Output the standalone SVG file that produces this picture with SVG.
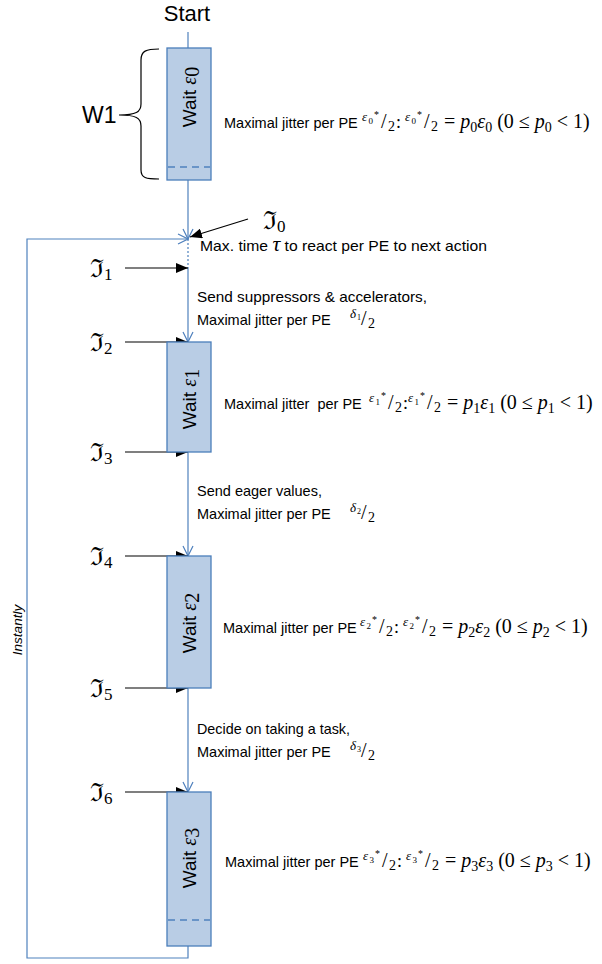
<svg xmlns="http://www.w3.org/2000/svg" width="602" height="964" viewBox="0 0 602 964">
<style>
.box{fill:#b9cde5;stroke:#4a7ebb;stroke-width:1.3}
.dash{stroke:#4f81bd;stroke-width:1.5;stroke-dasharray:7,5;fill:none}
.flow{stroke:#4f81bd;stroke-width:1.2;fill:none}
.dot{stroke:#4f81bd;stroke-width:1.2;stroke-dasharray:2,2;fill:none}
.blk{stroke:#000;stroke-width:1.2;fill:none}
.t{font-family:"Liberation Sans",Arial,sans-serif;font-size:14.5px;fill:#000}
.wait{font-family:"Liberation Sans",Arial,sans-serif;font-size:19px;fill:#000}
.mt{font-family:"Liberation Serif","DejaVu Serif",serif;font-size:20px;fill:#000}
.mi{font-style:italic}
.fr{font-family:"DejaVu Serif",serif;font-size:25px;fill:#000}
</style>
<defs>
<marker id="open" viewBox="0 0 12 12" refX="11" refY="6" markerWidth="12" markerHeight="12" markerUnits="userSpaceOnUse" orient="auto">
<path d="M1,1 L11,6 L1,11" fill="none" stroke="#4f81bd" stroke-width="1.2"/>
</marker>
<marker id="fill" viewBox="0 0 12 10" refX="12" refY="5" markerWidth="12" markerHeight="10" markerUnits="userSpaceOnUse" orient="auto">
<path d="M0,0 L12,5 L0,10 Z" fill="#000"/>
</marker>
</defs>

<text x="187" y="21" text-anchor="middle" font-family="Liberation Sans,Arial,sans-serif" font-size="22">Start</text>

<g id="connectors">
<line class="flow" x1="188" y1="32" x2="188" y2="48"/>
<line class="flow" x1="188" y1="180" x2="188" y2="239" marker-end="url(#open)"/>
<line class="dot" x1="188" y1="239" x2="188" y2="268"/>
<line class="flow" x1="188" y1="268" x2="188" y2="342" marker-end="url(#open)"/>
<line class="flow" x1="188" y1="452" x2="188" y2="556" marker-end="url(#open)"/>
<line class="flow" x1="188" y1="688" x2="188" y2="792" marker-end="url(#open)"/>
<polyline class="flow" points="188,946 188,958 27,958 27,239 188,239" marker-end="url(#open)"/>
<line class="blk" x1="248" y1="219" x2="190" y2="237" marker-end="url(#fill)"/>
<line class="blk" x1="125" y1="268" x2="188" y2="268" marker-end="url(#fill)"/>
<line class="blk" x1="125" y1="342" x2="188" y2="342" marker-end="url(#fill)"/>
<line class="blk" x1="125" y1="452" x2="188" y2="452" marker-end="url(#fill)"/>
<line class="blk" x1="125" y1="556" x2="188" y2="556" marker-end="url(#fill)"/>
<line class="blk" x1="125" y1="688" x2="188" y2="688" marker-end="url(#fill)"/>
<line class="blk" x1="125" y1="792" x2="188" y2="792" marker-end="url(#fill)"/>
</g>

<g id="w1">
<path class="blk" d="M159,49 C146,49 141,51 141,60 L141,104 C141,112 136,115 119,115 C136,115 141,118 141,126 L141,170 C141,178 146,179 159,179"/>
<text x="82" y="123" font-family="Liberation Sans,Arial,sans-serif" font-size="23">W1</text>
</g>

<g id="wait0">
<rect class="box" x="167" y="48" width="44" height="132"/>
<line class="dash" x1="168" y1="167" x2="210" y2="167"/>
<text class="wait" transform="translate(196,97) rotate(-90)" text-anchor="middle">Wait <tspan class="mt mi" font-size="19">ε</tspan><tspan class="mt" font-size="13" dy="3">0</tspan></text>
</g>
<g id="wait1">
<rect class="box" x="167" y="342" width="44" height="110"/>
<text class="wait" transform="translate(196,399) rotate(-90)" text-anchor="middle">Wait <tspan class="mt mi" font-size="19">ε</tspan><tspan class="mt" font-size="13" dy="3">1</tspan></text>
</g>
<g id="wait2">
<rect class="box" x="167" y="556" width="44" height="132"/>
<text class="wait" transform="translate(196,623) rotate(-90)" text-anchor="middle">Wait <tspan class="mt mi" font-size="19">ε</tspan><tspan class="mt" font-size="13" dy="3">2</tspan></text>
</g>
<g id="wait3">
<rect class="box" x="167" y="792" width="44" height="154"/>
<line class="dash" x1="168" y1="920" x2="210" y2="920"/>
<text class="wait" transform="translate(196,858) rotate(-90)" text-anchor="middle">Wait <tspan class="mt mi" font-size="19">ε</tspan><tspan class="mt" font-size="13" dy="3">3</tspan></text>
</g>

<g id="labels">
<text class="fr" x="263" y="229">ℑ<tspan font-family="Liberation Serif,serif" font-size="17" dy="3">0</tspan></text>
<text class="fr" x="90" y="277">ℑ<tspan font-family="Liberation Serif,serif" font-size="17" dy="3">1</tspan></text>
<text class="fr" x="90" y="351">ℑ<tspan font-family="Liberation Serif,serif" font-size="17" dy="3">2</tspan></text>
<text class="fr" x="90" y="461">ℑ<tspan font-family="Liberation Serif,serif" font-size="17" dy="3">3</tspan></text>
<text class="fr" x="90" y="565">ℑ<tspan font-family="Liberation Serif,serif" font-size="17" dy="3">4</tspan></text>
<text class="fr" x="90" y="697">ℑ<tspan font-family="Liberation Serif,serif" font-size="17" dy="3">5</tspan></text>
<text class="fr" x="90" y="801">ℑ<tspan font-family="Liberation Serif,serif" font-size="17" dy="3">6</tspan></text>

<text class="t" x="200" y="251" textLength="287" lengthAdjust="spacingAndGlyphs">Max. time <tspan class="mt mi" font-size="16">τ</tspan> to react per PE to next action</text>

<text class="t" x="197" y="302" textLength="230" lengthAdjust="spacingAndGlyphs">Send suppressors &amp; accelerators,</text>
<text class="t" x="197" y="325">Maximal jitter per PE</text>
<text class="mt" transform="translate(350,325)"><tspan class="mi" x="0" y="-7" font-size="13">δ</tspan><tspan x="7" y="-5" font-size="8">1</tspan><tspan x="11" y="0" font-size="20">/</tspan><tspan x="18" y="3" font-size="14">2</tspan></text>

<text class="t" x="197" y="496">Send eager values,</text>
<text class="t" x="197" y="519">Maximal jitter per PE</text>
<text class="mt" transform="translate(350,519)"><tspan class="mi" x="0" y="-7" font-size="13">δ</tspan><tspan x="7" y="-5" font-size="8">2</tspan><tspan x="11" y="0" font-size="20">/</tspan><tspan x="18" y="3" font-size="14">2</tspan></text>

<text class="t" x="197" y="734" textLength="153" lengthAdjust="spacingAndGlyphs">Decide on taking a task,</text>
<text class="t" x="197" y="757">Maximal jitter per PE</text>
<text class="mt" transform="translate(350,757)"><tspan class="mi" x="0" y="-7" font-size="13">δ</tspan><tspan x="7" y="-5" font-size="8">3</tspan><tspan x="11" y="0" font-size="20">/</tspan><tspan x="18" y="3" font-size="14">2</tspan></text>

<text class="t" x="224" y="128">Maximal jitter per PE</text>
<text class="mt" transform="translate(362,128)"><tspan class="mi" x="0" y="-7" font-size="13">ε</tspan><tspan x="6.5" y="-4" font-size="9">0</tspan><tspan x="12" y="-10" font-size="10">*</tspan><tspan x="19" y="0">/</tspan><tspan x="26" y="3" font-size="14">2</tspan><tspan x="34" y="0" font-size="18">:</tspan><tspan class="mi" x="43" y="-7" font-size="13">ε</tspan><tspan x="49.5" y="-4" font-size="9">0</tspan><tspan x="55" y="-10" font-size="10">*</tspan><tspan x="62" y="0">/</tspan><tspan x="69" y="3" font-size="14">2</tspan><tspan x="82" y="0">= </tspan><tspan class="mi">p</tspan><tspan font-size="14" dy="4">0</tspan><tspan class="mi" dy="-4">ε</tspan><tspan font-size="14" dy="4">0</tspan><tspan dy="-4"> (0 ≤ </tspan><tspan class="mi">p</tspan><tspan font-size="14" dy="4">0</tspan><tspan dy="-4"> &lt; 1)</tspan></text>

<text class="t" x="224" y="409" xml:space="preserve">Maximal jitter  per PE</text>
<text class="mt" transform="translate(369,409)"><tspan class="mi" x="0" y="-7" font-size="13">ε</tspan><tspan x="6.5" y="-4" font-size="9">1</tspan><tspan x="12" y="-10" font-size="10">*</tspan><tspan x="19" y="0">/</tspan><tspan x="26" y="3" font-size="14">2</tspan><tspan x="34" y="0" font-size="18">:</tspan><tspan class="mi" x="39" y="-7" font-size="13">ε</tspan><tspan x="45.5" y="-4" font-size="9">1</tspan><tspan x="51" y="-10" font-size="10">*</tspan><tspan x="58" y="0">/</tspan><tspan x="65" y="3" font-size="14">2</tspan><tspan x="78" y="0">= </tspan><tspan class="mi">p</tspan><tspan font-size="14" dy="4">1</tspan><tspan class="mi" dy="-4">ε</tspan><tspan font-size="14" dy="4">1</tspan><tspan dy="-4"> (0 ≤ </tspan><tspan class="mi">p</tspan><tspan font-size="14" dy="4">1</tspan><tspan dy="-4"> &lt; 1)</tspan></text>

<text class="t" x="223" y="633">Maximal jitter per PE</text>
<text class="mt" transform="translate(360,633)"><tspan class="mi" x="0" y="-7" font-size="13">ε</tspan><tspan x="6.5" y="-4" font-size="9">2</tspan><tspan x="12" y="-10" font-size="10">*</tspan><tspan x="19" y="0">/</tspan><tspan x="26" y="3" font-size="14">2</tspan><tspan x="34" y="0" font-size="18">:</tspan><tspan class="mi" x="43" y="-7" font-size="13">ε</tspan><tspan x="49.5" y="-4" font-size="9">2</tspan><tspan x="55" y="-10" font-size="10">*</tspan><tspan x="62" y="0">/</tspan><tspan x="69" y="3" font-size="14">2</tspan><tspan x="82" y="0">= </tspan><tspan class="mi">p</tspan><tspan font-size="14" dy="4">2</tspan><tspan class="mi" dy="-4">ε</tspan><tspan font-size="14" dy="4">2</tspan><tspan dy="-4"> (0 ≤ </tspan><tspan class="mi">p</tspan><tspan font-size="14" dy="4">2</tspan><tspan dy="-4"> &lt; 1)</tspan></text>

<text class="t" x="225" y="867">Maximal jitter per PE</text>
<text class="mt" transform="translate(363,867)"><tspan class="mi" x="0" y="-7" font-size="13">ε</tspan><tspan x="6.5" y="-4" font-size="9">3</tspan><tspan x="12" y="-10" font-size="10">*</tspan><tspan x="19" y="0">/</tspan><tspan x="26" y="3" font-size="14">2</tspan><tspan x="34" y="0" font-size="18">:</tspan><tspan class="mi" x="43" y="-7" font-size="13">ε</tspan><tspan x="49.5" y="-4" font-size="9">3</tspan><tspan x="55" y="-10" font-size="10">*</tspan><tspan x="62" y="0">/</tspan><tspan x="69" y="3" font-size="14">2</tspan><tspan x="82" y="0">= </tspan><tspan class="mi">p</tspan><tspan font-size="14" dy="4">3</tspan><tspan class="mi" dy="-4">ε</tspan><tspan font-size="14" dy="4">3</tspan><tspan dy="-4"> (0 ≤ </tspan><tspan class="mi">p</tspan><tspan font-size="14" dy="4">3</tspan><tspan dy="-4"> &lt; 1)</tspan></text>

<text transform="translate(22,630) rotate(-90)" text-anchor="middle" font-family="Liberation Sans,Arial,sans-serif" font-size="13.5" font-style="italic">Instantly</text>
</g>
</svg>
